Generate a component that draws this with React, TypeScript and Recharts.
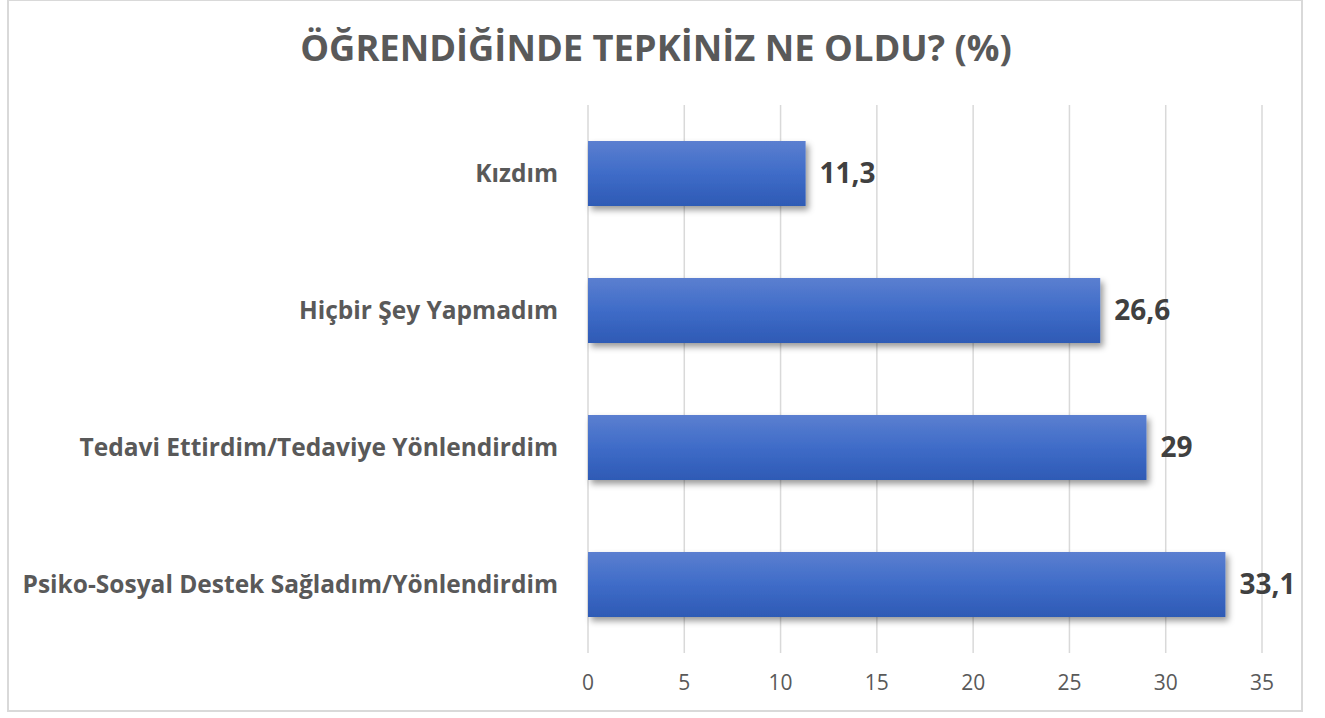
import React from "react";
import { BarChart, Bar, XAxis, YAxis, CartesianGrid, LabelList } from "recharts";

const categories = [
  "Kızdım",
  "Hiçbir Şey Yapmadım",
  "Tedavi Ettirdim/Tedaviye Yönlendirdim",
  "Psiko-Sosyal Destek Sağladım/Yönlendirdim",
];
const values = [11.3, 26.6, 29, 33.1];
const xTicks = [0, 5, 10, 15, 20, 25, 30, 35];
const title = "ÖĞRENDİĞİNDE TEPKİNİZ NE OLDU? (%)";

const data = categories.map((name, i) => ({ name, value: values[i] }));

const FONT = "'Open Sans', 'Noto Sans', sans-serif";

export default function App() {
  return (
    <div style={{ position: "absolute", left: 0, top: 0, width: 1325, height: 718, background: "#fff", fontFamily: FONT }}>
      <div
        style={{
          position: "absolute",
          left: 7,
          top: -1,
          width: 1296,
          height: 713,
          border: "2px solid #d9d9d9",
          boxSizing: "border-box",
        }}
      />
      <div
        style={{
          position: "absolute",
          left: 0,
          width: 1312,
          top: 22,
          textAlign: "center",
          fontSize: 36.3,
          fontWeight: 700,
          color: "#595959",
          lineHeight: "50px",
        }}
      >
        {title}
      </div>
      <div style={{ position: "absolute", left: 0, top: 0 }}>
        <BarChart
          width={1325}
          height={718}
          data={data}
          layout="vertical"
          margin={{ top: 105, right: 63, bottom: 0, left: 0 }}
        >
          <defs>
            <linearGradient id="barGrad" x1="0" y1="0" x2="0" y2="1">
              <stop offset="0%" stopColor="#5b7fd0" />
              <stop offset="50%" stopColor="#3f6cc8" />
              <stop offset="100%" stopColor="#2e5ab5" />
            </linearGradient>
            <filter id="barShadow" x="-10%" y="-20%" width="130%" height="160%">
              <feDropShadow dx="3" dy="4" stdDeviation="3" floodColor="#000" floodOpacity="0.4" />
            </filter>
          </defs>
          <CartesianGrid horizontal={false} stroke="#d9d9d9" strokeWidth={1.5} />
          <XAxis
            type="number"
            domain={[0, 35]}
            ticks={xTicks}
            axisLine={false}
            tickLine={false}
            height={65}
            tickMargin={16}
            tick={{ fontSize: 21, fill: "#595959", fontFamily: FONT }}
          />
          <YAxis
            type="category"
            dataKey="name"
            width={588}
            axisLine={false}
            tickLine={false}
            tickSize={0}
            tickMargin={30}
            tick={{ fontSize: 24.5, fill: "#595959", fontWeight: 700, fontFamily: FONT }}
          />
          <Bar
            dataKey="value"
            barSize={65}
            fill="url(#barGrad)"
            filter="url(#barShadow)"
            isAnimationActive={false}
          >
            <LabelList
              dataKey="value"
              position="right"
              offset={14}
              formatter={(v: any) => String(v).replace(".", ",")}
              style={{ fontSize: 28, fontWeight: 700, fill: "#404040", fontFamily: FONT }}
            />
          </Bar>
        </BarChart>
      </div>
    </div>
  );
}
